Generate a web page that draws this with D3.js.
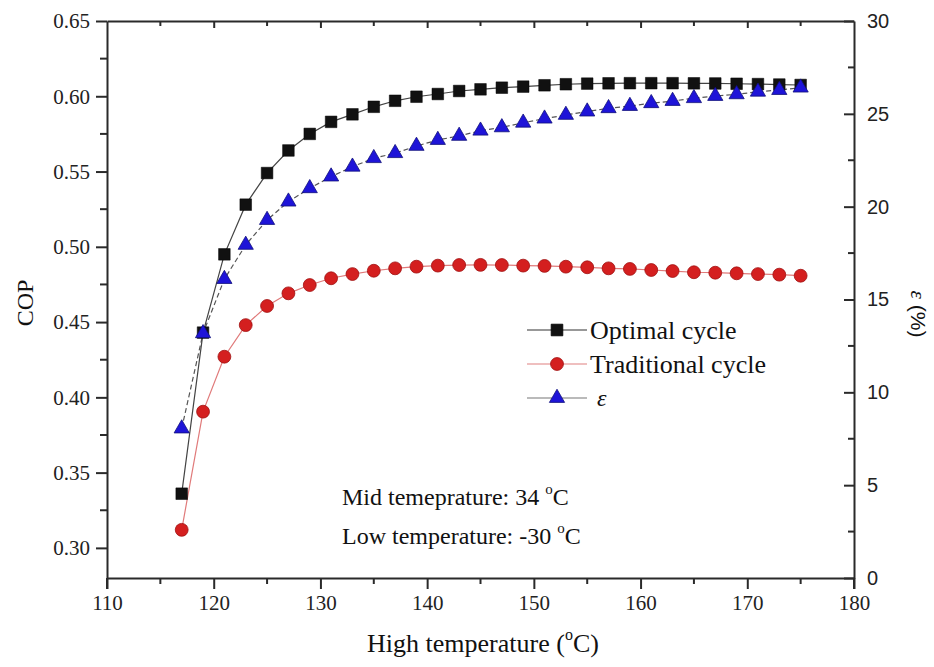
<!DOCTYPE html>
<html><head><meta charset="utf-8">
<script src="https://cdn.jsdelivr.net/npm/d3@7"></script>
<style>
body{margin:0;background:#fff;}
svg{display:block;}
.serif{font-family:"Liberation Serif","Times New Roman",serif;}
.sans{font-family:"Liberation Sans",Arial,sans-serif;}
</style></head>
<body>
<svg id="chart" width="934" height="667"></svg>
<script>
const temps = [117,119,121,123,125,127,129,131,133,135,137,139,141,143,145,147,149,151,153,155,157,159,161,163,165,167,169,171,173,175];
const optimal = [0.336,0.443,0.495,0.528,0.549,0.564,0.575,0.583,0.588,0.593,0.597,0.5997,0.6015,0.6035,0.6046,0.6057,0.6064,0.6073,0.608,0.6084,0.6086,0.6087,0.6087,0.6087,0.6086,0.6085,0.6083,0.6081,0.6078,0.6075];
const traditional = [0.312,0.3905,0.427,0.448,0.4607,0.4691,0.4746,0.4791,0.4819,0.4841,0.4857,0.4868,0.4875,0.4879,0.4880,0.4879,0.4875,0.4873,0.4868,0.4864,0.4857,0.4853,0.4846,0.4839,0.4831,0.4828,0.4824,0.4819,0.4815,0.4808];
const epsilon = [8.05,13.18,16.1,17.94,19.28,20.27,20.99,21.62,22.15,22.61,22.88,23.27,23.59,23.81,24.09,24.27,24.52,24.74,24.94,25.12,25.30,25.42,25.57,25.69,25.84,25.96,26.05,26.19,26.28,26.41];
const xTicks = [110,120,130,140,150,160,170,180];
const xMinor = [115,125,135,145,155,165,175];
const yLTicks = [0.30,0.35,0.40,0.45,0.50,0.55,0.60,0.65];
const yLMinor = [0.325,0.375,0.425,0.475,0.525,0.575,0.625];
const yRTicks = [0,5,10,15,20,25,30];
const yRMinor = [2.5,7.5,12.5,17.5,22.5,27.5];
const seriesNames = ["Optimal cycle","Traditional cycle","\u03b5"];

const svg = d3.select("#chart");
const L=107, R=854, T=21, B=578;
const x = d3.scaleLinear().domain([110,180]).range([L,R]);
const yL = d3.scaleLinear().domain([0.28,0.65]).range([B,T]);
const yR = d3.scaleLinear().domain([0,30]).range([B,T]);
const axisColor="#2a2a2a";

function styleAxis(g){
  g.selectAll("path.domain").attr("stroke",axisColor).attr("stroke-width",2);
  g.selectAll("line").attr("stroke",axisColor).attr("stroke-width",2);
}

// bottom axis
const gB = svg.append("g").attr("transform",`translate(0,${B})`)
  .call(d3.axisBottom(x).tickValues(xTicks).tickSize(11).tickSizeOuter(0).tickPadding(6).tickFormat(d3.format("d")));
gB.selectAll("text").attr("class","serif").attr("font-size",21).attr("fill","#222");
gB.append("g").selectAll("line").data(xMinor).join("line")
  .attr("x1",d=>x(d)).attr("x2",d=>x(d)).attr("y1",0).attr("y2",6);
styleAxis(gB);

// top axis (ticks inward)
const gT = svg.append("g").attr("transform",`translate(0,${T})`)
  .call(d3.axisBottom(x).tickValues(xTicks.slice(1,-1)).tickSize(7).tickSizeOuter(0).tickFormat(""));
gT.append("g").selectAll("line").data(xMinor).join("line")
  .attr("x1",d=>x(d)).attr("x2",d=>x(d)).attr("y1",0).attr("y2",5);
styleAxis(gT);

// left axis
const gL = svg.append("g").attr("transform",`translate(${L},0)`)
  .call(d3.axisLeft(yL).tickValues(yLTicks).tickSize(11).tickSizeOuter(0).tickPadding(6).tickFormat(d3.format(".2f")));
gL.selectAll("text").attr("class","serif").attr("font-size",21).attr("fill","#222");
gL.append("g").selectAll("line").data(yLMinor).join("line")
  .attr("x1",0).attr("x2",-7).attr("y1",d=>yL(d)).attr("y2",d=>yL(d));
gL.append("line").attr("x1",0).attr("x2",0).attr("y1",B).attr("y2",B+11);
styleAxis(gL);

// right axis (ticks inward)
const gR = svg.append("g").attr("transform",`translate(${R},0)`)
  .call(d3.axisRight(yR).tickValues(yRTicks).tickSize(-10).tickSizeOuter(0).tickPadding(12).tickFormat(d3.format("d")));
gR.selectAll("text").attr("class","sans").attr("font-size",20).attr("fill","#222").attr("x",13);
gR.append("g").selectAll("line").data(yRMinor).join("line")
  .attr("x1",0).attr("x2",-6).attr("y1",d=>yR(d)).attr("y2",d=>yR(d));
gR.append("line").attr("x1",0).attr("x2",0).attr("y1",B).attr("y2",B+11);
styleAxis(gR);

// lines
const pts = (vals,ys)=>temps.map((t,i)=>[x(t),ys(vals[i])]);
const line = d3.line();
svg.append("path").attr("d",line(pts(traditional,yL))).attr("fill","none").attr("stroke","#e07a7a").attr("stroke-width",1.2);
svg.append("path").attr("d",line(pts(epsilon,yR))).attr("fill","none").attr("stroke","#555").attr("stroke-width",1.2).attr("stroke-dasharray","5,3");
svg.append("path").attr("d",line(pts(optimal,yL))).attr("fill","none").attr("stroke","#444").attr("stroke-width",1.2);

const sq = d3.symbol().type(d3.symbolSquare).size(135);
const ci = d3.symbol().type(d3.symbolCircle).size(130);
const tr = d3.symbol().type(d3.symbolTriangle).size(100);
const redFill="#d41f1f", redStroke="#a01010", blueFill="#1e14d8", blueStroke="#10107a";

svg.append("g").selectAll("path").data(temps).join("path")
  .attr("d",ci).attr("transform",(d,i)=>`translate(${x(d)},${yL(traditional[i])})`)
  .attr("fill",redFill).attr("stroke",redStroke).attr("stroke-width",0.8);
svg.append("g").selectAll("path").data(temps).join("path")
  .attr("d",sq).attr("transform",(d,i)=>`translate(${x(d)},${yL(optimal[i])})`)
  .attr("fill","#111").attr("stroke","#000").attr("stroke-width",0.5);
svg.append("g").selectAll("path").data(temps).join("path")
  .attr("d",tr).attr("transform",(d,i)=>`translate(${x(d)},${yR(epsilon[i])})`)
  .attr("fill",blueFill).attr("stroke",blueStroke).attr("stroke-width",0.8);

// legend
const lg = svg.append("g");
const rows = [
  {name:seriesNames[0], sym:sq, fill:"#111", stroke:"#000", line:"#333"},
  {name:seriesNames[1], sym:ci, fill:redFill, stroke:redStroke, line:"#e08080"},
  {name:seriesNames[2], sym:tr, fill:blueFill, stroke:blueStroke, line:"#777"}
];
const ly0 = 330, ldy = 34;
rows.forEach((r,i)=>{
  const yy = ly0 + i*ldy;
  lg.append("line").attr("x1",527).attr("x2",587).attr("y1",yy).attr("y2",yy).attr("stroke",r.line).attr("stroke-width",1.2);
  lg.append("path").attr("d",r.sym).attr("transform",`translate(557,${yy})`).attr("fill",r.fill).attr("stroke",r.stroke).attr("stroke-width",0.8);
  const t = lg.append("text").attr("class","serif").attr("x",590).attr("y",yy).attr("dy","0.35em")
    .attr("font-size",26).attr("fill","#111").text(r.name);
  if(i===2) t.attr("font-style","italic").attr("x",597).attr("font-size",24);
});

// annotations
function degText(sel, before){
  sel.append("tspan").text(before);
  sel.append("tspan").attr("font-size",15).attr("dy",-11).text("o");
  sel.append("tspan").attr("dy",11).text("C");
}
degText(svg.append("text").attr("class","serif").attr("x",342).attr("y",505).attr("font-size",24).attr("fill","#111"), "Mid temeprature: 34 ");
degText(svg.append("text").attr("class","serif").attr("x",342).attr("y",544).attr("font-size",24).attr("fill","#111"), "Low temperature: -30 ");

// axis titles
const xt = svg.append("text").attr("class","serif").attr("x",483).attr("y",652).attr("text-anchor","middle").attr("font-size",26).attr("fill","#111");
xt.append("tspan").text("High temperature (");
xt.append("tspan").attr("font-size",16).attr("dy",-12).text("o");
xt.append("tspan").attr("dy",12).text("C)");

svg.append("text").attr("class","serif").attr("transform","translate(33,303) rotate(-90)")
  .attr("text-anchor","middle").attr("font-size",24).attr("fill","#111").text("COP");

const rt = svg.append("text").attr("transform","translate(911,314) rotate(90)")
  .attr("text-anchor","middle").attr("font-size",21).attr("fill","#111");
rt.append("tspan").attr("class","serif").attr("font-style","italic").text("\u03b5");
rt.append("tspan").attr("class","sans").text(" (%)");
</script>
</body></html>
